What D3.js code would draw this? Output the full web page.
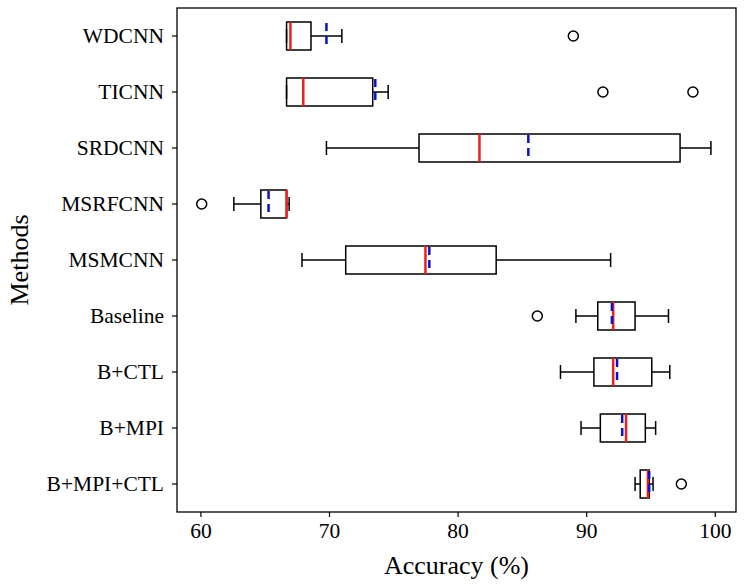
<!DOCTYPE html>
<html>
<head>
<meta charset="utf-8">
<script src="https://cdn.jsdelivr.net/npm/d3@7"></script>
<style>
body { margin: 0; background: #fff; }
text { font-family: "Liberation Serif", "Times New Roman", serif; }
</style>
</head>
<body>
<svg id="chart" width="748" height="584"></svg>
<script>
// methods, top to bottom
var methods = ["WDCNN", "TICNN", "SRDCNN", "MSRFCNN", "MSMCNN", "Baseline", "B+CTL", "B+MPI", "B+MPI+CTL"];
var whiskerLow = [66.7, 66.7, 69.8, 62.6, 67.9, 89.2, 88.0, 89.6, 93.8];
var q1 = [66.7, 66.7, 77.0, 64.7, 71.3, 90.9, 90.6, 91.1, 94.2];
var medians = [67.0, 68.0, 81.7, 66.7, 77.5, 92.1, 92.1, 93.1, 94.8];
var q3 = [68.6, 73.4, 97.3, 66.7, 83.0, 93.8, 95.1, 94.6, 94.9];
var whiskerHigh = [71.0, 74.6, 99.7, 66.9, 91.9, 96.4, 96.5, 95.4, 95.2];
var means = [69.8, 73.6, 85.5, 65.3, 77.8, 92.0, 92.4, 92.8, 94.9];
var outliers = [[89.0], [91.3, 98.3], [], [60.1], [], [86.2], [], [], [97.4]];
var xTicks = [60, 70, 80, 90, 100];

var margin = {top: 8, right: 12, bottom: 72, left: 177};
var svgWidth = 748, svgHeight = 584;
var chartWidth = svgWidth - margin.left - margin.right;
var chartHeight = svgHeight - margin.top - margin.bottom;

var svg = d3.select('#chart');
var chart = svg.append('g').attr('transform', `translate(${margin.left}, ${margin.top})`);

var xScale = d3.scaleLinear().domain([58.18, 101.65]).range([0, chartWidth]);
var yScale = d3.scaleBand().domain(methods).range([0, chartHeight]).paddingInner(0.5).paddingOuter(0.25);
var bw = yScale.bandwidth();

var data = methods.map(function(m, i) {
    return {name: m, lo: whiskerLow[i], q1: q1[i], med: medians[i], q3: q3[i], hi: whiskerHigh[i], mean: means[i], out: outliers[i]};
});

var g = chart.selectAll('.box').data(data).enter().append('g')
    .attr('transform', function(d) { return `translate(0, ${yScale(d.name)})`; });

// whiskers
g.append('line').attr('x1', d => xScale(d.lo)).attr('x2', d => xScale(d.q1))
    .attr('y1', bw / 2).attr('y2', bw / 2).attr('stroke', '#000').attr('stroke-width', 1.5);
g.append('line').attr('x1', d => xScale(d.q3)).attr('x2', d => xScale(d.hi))
    .attr('y1', bw / 2).attr('y2', bw / 2).attr('stroke', '#000').attr('stroke-width', 1.5);
// caps
['lo', 'hi'].forEach(function(k) {
    g.append('line').attr('x1', d => xScale(d[k])).attr('x2', d => xScale(d[k]))
        .attr('y1', bw / 4).attr('y2', bw * 3 / 4).attr('stroke', '#000').attr('stroke-width', 1.5);
});
// box
g.append('rect').attr('x', d => xScale(d.q1)).attr('width', d => xScale(d.q3) - xScale(d.q1))
    .attr('y', 0).attr('height', bw).attr('fill', 'none').attr('stroke', '#000').attr('stroke-width', 1.5);
// median
g.append('line').attr('x1', d => xScale(d.med)).attr('x2', d => xScale(d.med))
    .attr('y1', 0).attr('y2', bw).attr('stroke', '#e8211f').attr('stroke-width', 2.5);
// mean
g.append('line').attr('x1', d => xScale(d.mean)).attr('x2', d => xScale(d.mean))
    .attr('y1', 1).attr('y2', bw - 1).attr('stroke', '#0a10c8').attr('stroke-width', 2.5)
    .attr('stroke-dasharray', '8,5');
// outliers
g.selectAll('circle').data(d => d.out).enter().append('circle')
    .attr('cx', d => xScale(d)).attr('cy', bw / 2).attr('r', 5)
    .attr('fill', 'none').attr('stroke', '#000').attr('stroke-width', 1.5);

// axes
var xAxis = chart.append('g').attr('transform', `translate(0, ${chartHeight})`)
    .call(d3.axisBottom(xScale).tickValues(xTicks).tickSize(5).tickPadding(6).tickSizeOuter(0));
var yAxis = chart.append('g')
    .call(d3.axisLeft(yScale).tickSize(5).tickPadding(8).tickSizeOuter(0));
[xAxis, yAxis].forEach(function(a) {
    a.attr('font-size', 21.5).attr('font-family', '"Liberation Serif", serif');
    a.selectAll('text').attr('fill', '#000');
    a.selectAll('line').attr('stroke', '#000').attr('stroke-width', 1.2);
    a.select('.domain').remove();
});

chart.append('rect').attr('width', chartWidth).attr('height', chartHeight)
    .attr('fill', 'none').attr('stroke', '#000').attr('stroke-width', 1.3);

svg.append('text').attr('x', margin.left + chartWidth / 2).attr('y', 574)
    .attr('text-anchor', 'middle').attr('font-size', 26).text('Accuracy (%)');
svg.append('text').attr('transform', `translate(28, ${margin.top + chartHeight / 2}) rotate(-90)`)
    .attr('text-anchor', 'middle').attr('font-size', 26).text('Methods');
</script>
</body>
</html>
